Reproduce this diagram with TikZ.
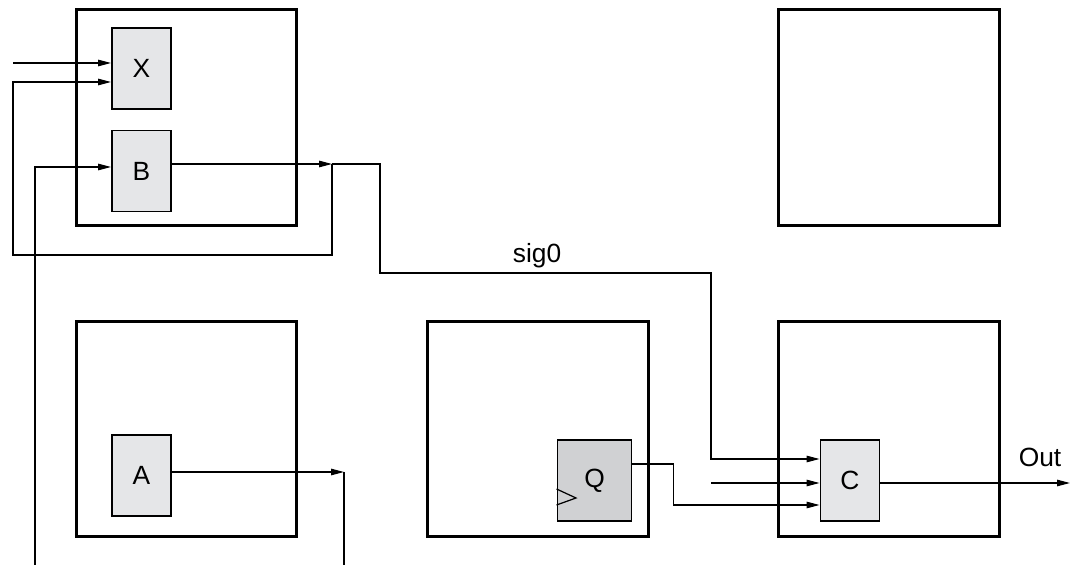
\documentclass[tikz,border=0pt]{standalone}
\usepackage{fontspec}
\setmainfont{Liberation Sans}
\usepackage{tikz}
\usetikzlibrary{arrows.meta}
\definecolor{cellfill}{RGB}{229,230,232}
\definecolor{regfill}{RGB}{208,209,211}
\tikzset{
  region/.style={draw, line width=1.7pt, inner sep=0pt, minimum width=4.42cm, minimum height=4.32cm},
  cell/.style={draw, line width=1.1pt, fill=cellfill, inner sep=0pt, minimum width=1.18cm, minimum height=1.62cm, font=\fontsize{15}{18}\selectfont},
  wire/.style={line width=0.7pt},
  arr/.tip={Triangle[length=2.6mm,width=1.3mm]}
}

\begin{document}
\begin{tikzpicture}[x=0.02cm, y=-0.02cm]
\useasboundingbox (0,0) rectangle (1080,567);
% regions
\node[region] (regTL) at (186.5,117.5) {};
\node[region] (regTR) at (889,117.5) {};
\node[region] (regBL) at (186.5,429) {};
\node[region] (regBM) at (538,429) {};
\node[region] (regBR) at (889,429) {};
% cells
\node[cell] (X) at (141.5,68.5) {X};
\node[cell] (B) at (141.5,171) {B};
\node[cell] (A) at (141.5,475.5) {A};
\node[cell, fill=regfill, minimum width=1.48cm] (Q) at (594.5,480.5) {Q};
\node[cell] (C) at (850,480.5) {C};
% free ends of wires
\coordinate (xin) at (13,63);
\coordinate (bout) at (332,164);
\coordinate (bin) at (35,565);
\coordinate (aout) at (344,472);
\coordinate (aend) at (344,565);
\coordinate (cin) at (711,483);
\coordinate (out) at (1070,483);
% wires
\draw[wire,-arr] (xin) -- (xin -| X.west);
\draw[wire,-arr] (B.east |- bout) -- (bout);
\draw[wire,-arr] (bout) -- ++(0,91) -- ++(-319,0) -- ++(0,-173) -- (X.west |- 0,82);
\draw[wire,-arr] (bout) -- ++(48,0) -- ++(0,109) -- ++(331,0)
   -- ++(0,186) -- (C.west |- 0,459);
\node[font=\fontsize{15}{18}\selectfont] (sig) at (537,256) {sig0};
\draw[wire,-arr] (bin) |- (B.west |- 0,167);
\draw[wire,-arr] (A.east |- aout) -- (aout);
\draw[wire] (aout) -- (aend);
\draw[wire,-arr] (Q.east |- 0,464) -- ++(41,0) -- ++(0,41) -- (C.west |- 0,505);
\draw[wire,-arr] (cin) -- (C.west |- cin);
\draw[wire,-arr] (C.east |- out) -- (out);
\node[font=\fontsize{15}{18}\selectfont] (outlbl) at (1040,457) {Out};
% clock mark
\draw[wire] (Q.west |- 0,489) -- (576,498) -- (Q.west |- 0,505);
\end{tikzpicture}
\end{document}
